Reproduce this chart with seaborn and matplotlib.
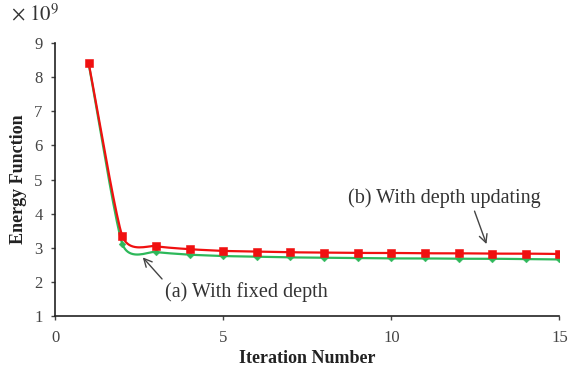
import numpy as np
import matplotlib
matplotlib.use("Agg")
import matplotlib.pyplot as plt
import seaborn as sns

iterations = list(range(1, 16))
energy_updating = [8.42, 3.35, 3.05, 2.96, 2.91, 2.89, 2.87, 2.86, 2.85, 2.85, 2.84, 2.84, 2.83, 2.83, 2.82]
energy_fixed = [8.40, 3.12, 2.88, 2.80, 2.76, 2.74, 2.72, 2.71, 2.70, 2.69, 2.69, 2.68, 2.68, 2.67, 2.66]
x_ticks = [0, 5, 10, 15]
y_ticks = [1, 2, 3, 4, 5, 6, 7, 8, 9]


def smooth(x, y, c=0.3, n=20):
    # cardinal spline for the drawn line only (Excel-like "smoothed line")
    x = np.asarray(x, float)
    y = np.asarray(y, float)
    px = np.concatenate([[2 * x[0] - x[1]], x, [2 * x[-1] - x[-2]]])
    py = np.concatenate([[2 * y[0] - y[1]], y, [2 * y[-1] - y[-2]]])
    t = np.linspace(0, 1, n, endpoint=False)
    h00 = 2 * t ** 3 - 3 * t ** 2 + 1
    h10 = t ** 3 - 2 * t ** 2 + t
    h01 = -2 * t ** 3 + 3 * t ** 2
    h11 = t ** 3 - t ** 2
    xs, ys = [], []
    for i in range(1, len(px) - 2):
        for p, out in ((px, xs), (py, ys)):
            m1 = c * (p[i + 1] - p[i - 1])
            m2 = c * (p[i + 2] - p[i])
            out.extend(h00 * p[i] + h10 * m1 + h01 * p[i + 1] + h11 * m2)
    xs.append(x[-1])
    ys.append(y[-1])
    return np.array(xs), np.array(ys)


sns.set_style("ticks")
plt.rcParams["font.family"] = ["Liberation Serif", "DejaVu Serif"]
plt.rcParams["mathtext.fontset"] = "stix"

fig = plt.figure(figsize=(5.7, 3.71), dpi=100)
ax = fig.add_axes([0.0965, 0.148, 0.885, 0.736])

red = "#f01010"
green = "#2db85a"

sx, sy = smooth(iterations, energy_fixed)
sns.lineplot(x=sx, y=sy, ax=ax, color=green, linewidth=1.6, sort=False)
sns.scatterplot(x=iterations, y=energy_fixed, ax=ax, color=green, marker="D", s=12, edgecolor=green, zorder=3)

sx, sy = smooth(iterations, energy_updating)
sns.lineplot(x=sx, y=sy, ax=ax, color=red, linewidth=1.6, sort=False)
sns.scatterplot(x=iterations, y=energy_updating, ax=ax, color=red, marker="s", s=26, edgecolor=red, zorder=4)

ax.set_xlim(0, 15)
ax.set_ylim(1, 9)
ax.set_xticks(x_ticks)
ax.set_yticks(y_ticks)
ax.tick_params(labelsize=12, colors="#444444", length=3, width=1)
ax.tick_params(axis="x", pad=7)
ax.tick_params(axis="y", pad=6)
ax.set_xlabel("Iteration Number", fontsize=13, fontweight="bold", color="#222222", labelpad=3)
ax.set_ylabel("Energy Function", fontsize=13, fontweight="bold", color="#222222", labelpad=5)
sns.despine(ax=ax)
for s in ["left", "bottom"]:
    ax.spines[s].set_color("#222222")
    ax.spines[s].set_linewidth(1.2)

fig.text(0.02, 0.945, r"$\times\ 10^9$", fontsize=15, color="#333333")

ax.annotate("(a) With fixed depth", xy=(2.61, 2.72), xytext=(3.27, 1.70),
            fontsize=14.5, color="#333333", ha="left", va="center",
            arrowprops=dict(arrowstyle="->", color="#444444", lw=1,
                            shrinkA=0, shrinkB=0, relpos=(0.0, 1.0)))
ax.annotate("(b) With depth updating", xy=(12.83, 3.11), xytext=(11.58, 4.46),
            fontsize=14.5, color="#333333", ha="center", va="center",
            arrowprops=dict(arrowstyle="->", color="#444444", lw=1,
                            shrinkA=0, shrinkB=0, relpos=(0.65, 0.0)))

fig.savefig("out.png", dpi=100)
